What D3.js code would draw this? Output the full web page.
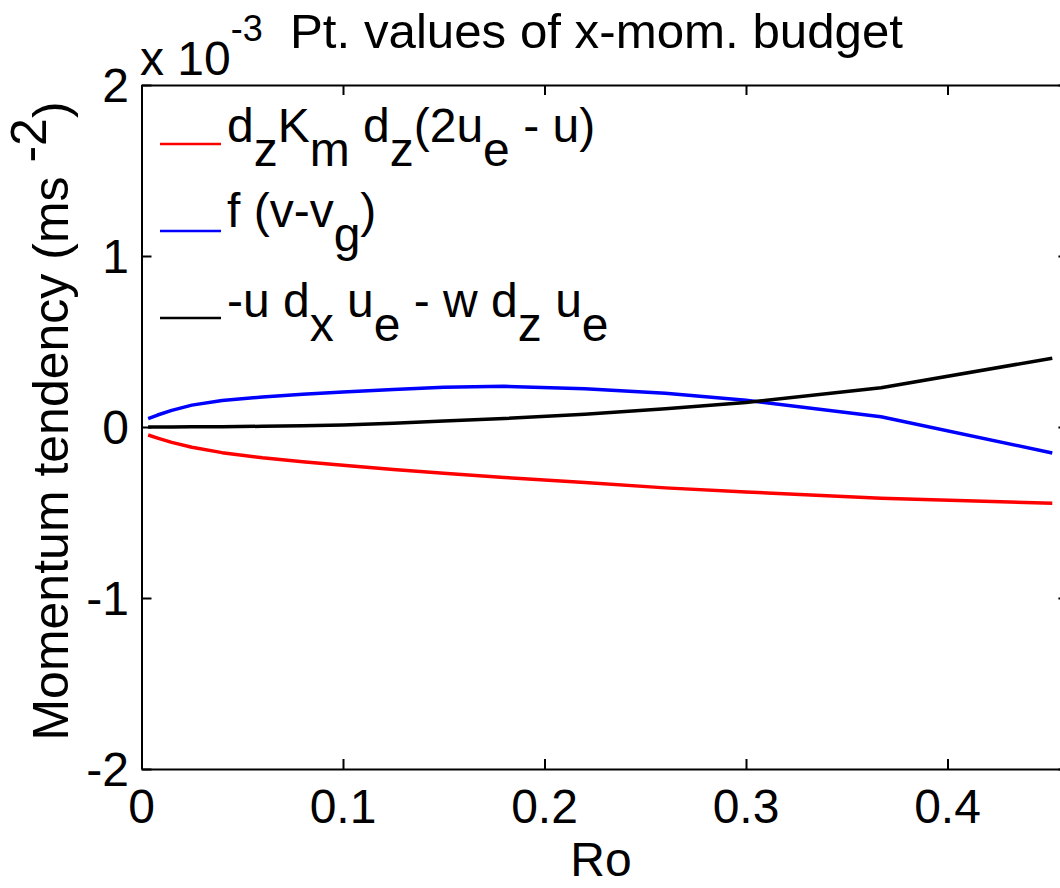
<!DOCTYPE html>
<html>
<head>
<meta charset="utf-8">
<script src="https://cdn.jsdelivr.net/npm/d3@7"></script>
<style>
  html, body { margin: 0; padding: 0; background: #fff; }
  svg { display: block; }
  text { font-family: "Liberation Sans", Arial, Helvetica, sans-serif; fill: #000; white-space: pre; }
</style>
</head>
<body>
<svg id="chart" width="1060" height="888"></svg>
<script>
// Rossby number samples
const ro = [0.0033, 0.008, 0.015, 0.025, 0.04, 0.06, 0.08, 0.1, 0.125, 0.15, 0.18, 0.22, 0.26, 0.30, 0.367, 0.452];

// Point values of the x-momentum budget terms (units of 1e-3 m s^-2)
const diffusion = [-0.047, -0.065, -0.090, -0.118, -0.150, -0.180, -0.203, -0.224, -0.248, -0.270, -0.295, -0.325, -0.356, -0.380, -0.417, -0.446];
const coriolis  = [0.049, 0.070, 0.097, 0.128, 0.155, 0.176, 0.192, 0.205, 0.220, 0.233, 0.238, 0.224, 0.197, 0.156, 0.060, -0.152];
const advection = [0.000, 0.000, 0.000, 0.001, 0.002, 0.004, 0.007, 0.012, 0.022, 0.035, 0.050, 0.074, 0.107, 0.143, 0.230, 0.402];

const xTicks = [0, 0.1, 0.2, 0.3, 0.4];
const xTickLabels = ["0", "0.1", "0.2", "0.3", "0.4"];
const yTicks = [-2, -1, 0, 1, 2];
const yTickLabels = ["-2", "-1", "0", "1", "2"];

const svg = d3.select("#chart");
const FS = 48;

const plotLeft = 141.5, plotTop = 85, plotBottom = 769;
const x = d3.scaleLinear().domain([0, 0.46]).range([plotLeft, plotLeft + 0.46 * 2015]);
const y = d3.scaleLinear().domain([-2, 2]).range([plotBottom, plotTop]);
const plotRight = x(0.46);

// clip region for the data lines
svg.append("defs").append("clipPath").attr("id", "plotArea")
  .append("rect").attr("x", plotLeft).attr("y", plotTop)
  .attr("width", plotRight - plotLeft).attr("height", plotBottom - plotTop);

// data series
const series = [
  { values: diffusion, color: "#ff0000" },
  { values: coriolis,  color: "#0000ff" },
  { values: advection, color: "#000000" }
];
const line = d3.line().x(d => x(d[0])).y(d => y(d[1]));
const plot = svg.append("g").attr("clip-path", "url(#plotArea)");
series.forEach(s => {
  plot.append("path")
    .datum(ro.map((r, i) => [r, s.values[i]]))
    .attr("d", line)
    .attr("fill", "none")
    .attr("stroke", s.color)
    .attr("stroke-width", 3.5)
    .attr("stroke-linejoin", "round");
});

// axes: ticks point inward, mirrored on the opposite sides
const TL = 10;
const axisStyle = g => {
  g.select(".domain").attr("stroke", "#000").attr("stroke-width", 2);
  g.selectAll(".tick line").attr("stroke", "#000").attr("stroke-width", 2);
  g.selectAll(".tick text").remove();
};
svg.append("g").attr("transform", `translate(0,${plotBottom})`)
  .call(d3.axisTop(x).tickValues(xTicks).tickSize(TL).tickSizeOuter(0)).call(axisStyle);
svg.append("g").attr("transform", `translate(0,${plotTop})`)
  .call(d3.axisBottom(x).tickValues(xTicks).tickSize(TL).tickSizeOuter(0)).call(axisStyle);
svg.append("g").attr("transform", `translate(${plotLeft},0)`)
  .call(d3.axisRight(y).tickValues(yTicks).tickSize(TL).tickSizeOuter(0)).call(axisStyle);
svg.append("g").attr("transform", `translate(${plotRight},0)`)
  .call(d3.axisLeft(y).tickValues(yTicks).tickSize(TL).tickSizeOuter(0)).call(axisStyle);

// tick labels
svg.append("g").selectAll("text").data(xTicks).join("text")
  .attr("x", d => x(d)).attr("y", 823)
  .attr("text-anchor", "middle").attr("font-size", FS)
  .text((d, i) => xTickLabels[i]);
svg.append("g").selectAll("text").data(yTicks).join("text")
  .attr("x", 129).attr("y", d => y(d) + 17)
  .attr("text-anchor", "end").attr("font-size", FS)
  .text((d, i) => yTickLabels[i]);

// exponent label
const expo = svg.append("text").attr("x", 140).attr("y", 75).attr("font-size", FS);
expo.append("tspan").text("x 10");
expo.append("tspan").attr("dy", -34).attr("font-size", 36).text("-3");

// title
svg.append("text").attr("x", 290).attr("y", 48).attr("font-size", FS)
  .attr("textLength", 613).attr("lengthAdjust", "spacingAndGlyphs")
  .text("Pt. values of x-mom. budget");

// axis titles
svg.append("text").attr("x", 601).attr("y", 876)
  .attr("text-anchor", "middle").attr("font-size", FS).text("Ro");
const yl = svg.append("text")
  .attr("transform", "translate(68,421) rotate(-90)")
  .attr("text-anchor", "middle").attr("font-size", 50);
yl.append("tspan").text("Momentum tendency (ms ");
yl.append("tspan").attr("dy", -22).text("-2");
yl.append("tspan").attr("dy", 22).text(")");

// legend with TeX-style subscripts
const SUB = 24;
const legend = [
  { color: "#ff0000", ly: 144, by: 142,
    parts: [["d",0],["z",1],["K",0],["m",1],[" d",0],["z",1],["(2u",0],["e",1],[" - u)",0]] },
  { color: "#0000ff", ly: 231, by: 227,
    parts: [["f (v-v",0],["g",1],[")",0]] },
  { color: "#000000", ly: 318, by: 317,
    parts: [["-u d",0],["x",1],[" u",0],["e",1],[" - w d",0],["z",1],[" u",0],["e",1]] }
];
const lg = svg.append("g");
legend.forEach(item => {
  lg.append("line")
    .attr("x1", 160).attr("x2", 221).attr("y1", item.ly).attr("y2", item.ly)
    .attr("stroke", item.color).attr("stroke-width", 2.5);
  const t = lg.append("text").attr("x", 227).attr("y", item.by).attr("font-size", FS);
  let level = 0;
  item.parts.forEach(([s, sub]) => {
    t.append("tspan").attr("dy", (sub - level) * SUB).text(s);
    level = sub;
  });
});
</script>
</body>
</html>
